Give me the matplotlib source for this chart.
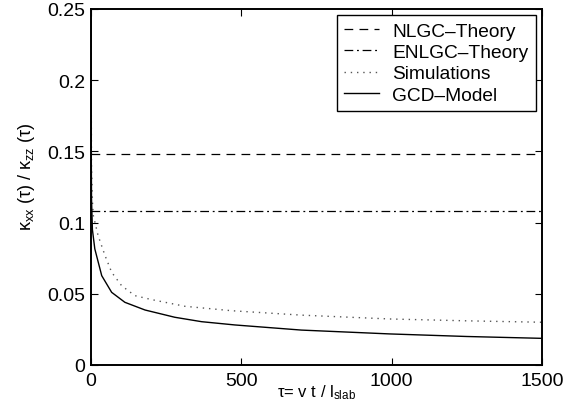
import matplotlib
matplotlib.use("Agg")
from matplotlib import pyplot as plt

plt.rcParams['font.family'] = ['Liberation Sans', 'DejaVu Sans']
plt.rcParams['mathtext.fontset'] = 'custom'
plt.rcParams['mathtext.rm'] = 'Liberation Sans'
plt.rcParams['mathtext.it'] = 'Liberation Sans'

# valores
nlgc = 0.148
enlgc = 0.108

tau_gcd = [0, 1, 2, 5, 13, 36, 69, 113, 180, 279, 368, 479, 700, 994, 1250, 1500]
gcd = [0.25, 0.16, 0.117, 0.095, 0.0815, 0.0627, 0.051, 0.044, 0.0386, 0.0335,
       0.0304, 0.0281, 0.0245, 0.0218, 0.0200, 0.0187]

tau_sim = [0, 2, 5, 8, 24, 47, 69, 102, 146, 202, 313, 468, 700, 994, 1250, 1500]
sim = [0.25, 0.14, 0.115, 0.105, 0.0908, 0.0768, 0.0651, 0.0557, 0.0487, 0.0459,
       0.0412, 0.0381, 0.035, 0.0323, 0.031, 0.030]

xlim = (0, 1500)
xticks = [0, 500, 1000, 1500]
yticks = [0, 0.05, 0.1, 0.15, 0.2, 0.25]
ytick_labels = ["0", "0.05", "0.1", "0.15", "0.2", "0.25"]

fig = plt.figure(figsize=(5.79, 4.14), dpi=100)
ax = fig.add_axes([0.157, 0.116, 0.779, 0.86])

ax.plot(xlim, [nlgc, nlgc], color='black', lw=0.9, linestyle=(0, (7, 5)), label="NLGC\u2013Theory")
ax.plot(xlim, [enlgc, enlgc], color='black', lw=0.9, linestyle=(0, (7, 3, 1.5, 3)), label="ENLGC\u2013Theory")
ax.plot(tau_sim, sim, color='#555555', lw=1.0, linestyle=(0, (1, 3.5)), label="Simulations")
ax.plot(tau_gcd, gcd, color='black', lw=1.0, label="GCD\u2013Model")

ax.set_xlim(xlim)
ax.set_ylim(0, 0.25)
ax.set_xticks(xticks)
ax.set_yticks(yticks)
ax.set_yticklabels(ytick_labels)
ax.tick_params(direction='in', top=True, right=True, labelsize=14, length=5, width=0.8)
ax.tick_params(axis='x', pad=5)
ax.tick_params(axis='y', pad=4)
for s in ax.spines.values():
    s.set_linewidth(1.4)

ax.set_xlabel(r"$\tau$= v t / l$_{\rm slab}$", fontsize=12, labelpad=-5)
ax.set_ylabel(r"$\kappa_{xx}$ ($\tau$) / $\kappa_{zz}$ ($\tau$)", fontsize=13)
ax.yaxis.set_label_coords(-0.12, 0.53)

leg = ax.legend(loc='upper right', fontsize=13.8, fancybox=False, framealpha=1,
                edgecolor='black', borderaxespad=0.3, handlelength=1.8,
                labelspacing=0.2, borderpad=0.4, handletextpad=0.7)
leg.get_frame().set_linewidth(1.0)

fig.savefig("out.png", dpi=100)
